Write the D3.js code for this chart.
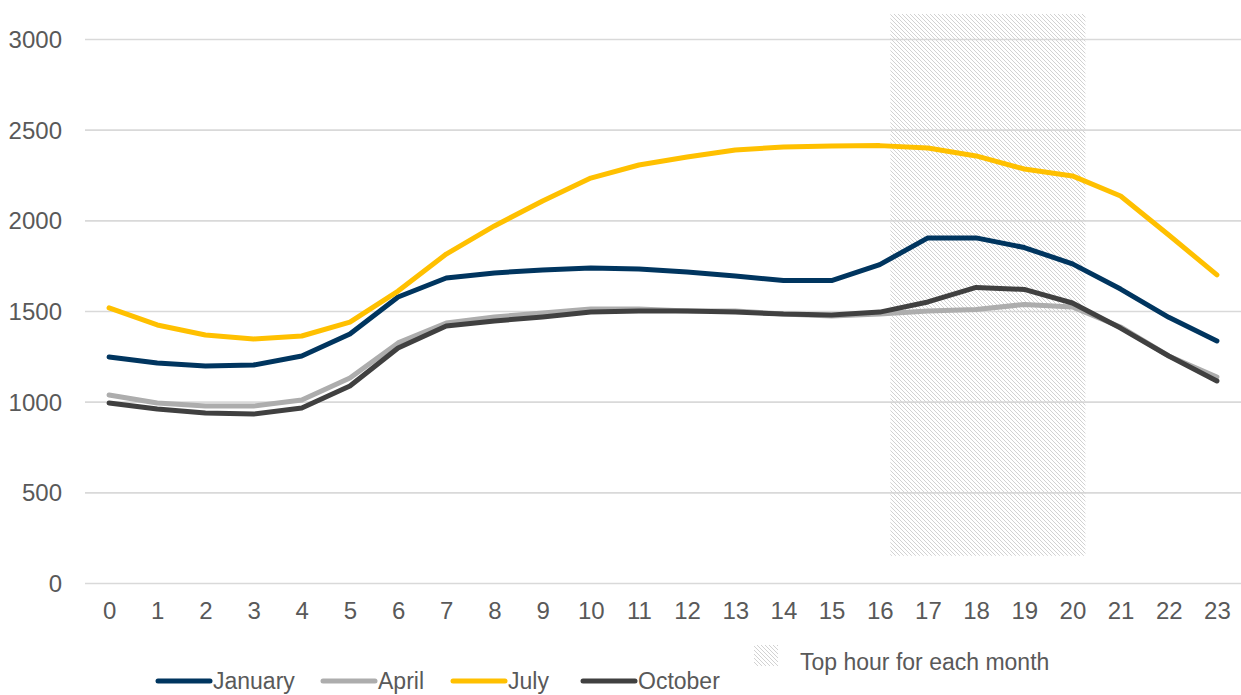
<!DOCTYPE html>
<html><head><meta charset="utf-8">
<script src="https://cdn.jsdelivr.net/npm/d3@7"></script>
<style>
html,body{margin:0;padding:0;background:#fff;}
svg{display:block;}
text{font-family:"Liberation Sans Narrow","Arial Narrow","Liberation Sans",sans-serif;fill:#595959;}
</style></head>
<body>
<svg id="chart" width="1241" height="695"></svg>
<script>
const hours = d3.range(0, 24);
const hourLabels = hours.map(String);
const yTicks = [0, 500, 1000, 1500, 2000, 2500, 3000];
const january = [1246,1213,1197,1202,1252,1373,1577,1682,1710,1726,1737,1732,1715,1693,1668,1668,1756,1903,1903,1850,1760,1621,1465,1335];
const april   = [1037,993,976,976,1009,1131,1324,1434,1467,1489,1511,1511,1500,1500,1483,1472,1483,1500,1508,1536,1522,1412,1252,1136];
const july    = [1517,1423,1368,1346,1362,1439,1610,1814,1969,2107,2233,2305,2349,2388,2404,2410,2412,2399,2355,2283,2245,2134,1919,1699];
const october = [993,960,938,932,965,1086,1296,1417,1445,1467,1494,1500,1500,1494,1483,1478,1494,1550,1630,1619,1544,1406,1252,1114];
const seriesNames = ["January","April","July","October"];
const seriesColors = ["#00355F","#ADADAD","#FFC000","#404040"];
const seriesValues = [january, april, july, october];
const peakHours = [16.22, 20.27];
const peakValues = [150, 3138];
const peakLabel = "Top hour for each month";

const svg = d3.select("#chart");
const mLeft = 85, mRight = 1241, mTop = 39, mBottom = 583;

const x = d3.scaleLinear().domain([-0.5, 23.5]).range([mLeft, mRight]);
const y = d3.scaleLinear().domain([0, 3000]).range([mBottom, mTop]);

// pattern
const defs = svg.append("defs");
const pat = defs.append("pattern").attr("id","hatch").attr("patternUnits","userSpaceOnUse")
  .attr("width",4).attr("height",4);
pat.append("path").attr("d","M-1,-1 L5,5 M-1,3 L1,5 M3,-1 L5,1")
  .attr("stroke","#d2d2d2").attr("stroke-width",1).attr("fill","none");

// gridlines
const yAxis = d3.axisLeft(y).tickValues(yTicks).tickFormat(d3.format("d"))
  .tickSize(-(mRight-mLeft)).tickPadding(23);
const gy = svg.append("g").attr("transform",`translate(${mLeft},0)`).call(yAxis);
gy.select(".domain").remove();
gy.selectAll(".tick line").attr("stroke","#d9d9d9").attr("stroke-width",1.6);
gy.selectAll(".tick text").style("font-size","24px").attr("fill","#595959").attr("dy","0.35em");

// hatch area
svg.append("rect")
  .attr("x", x(peakHours[0])).attr("width", x(peakHours[1]) - x(peakHours[0]))
  .attr("y", y(peakValues[1])).attr("height", y(peakValues[0]) - y(peakValues[1]))
  .attr("fill","url(#hatch)");

// x axis labels
const xAxis = d3.axisBottom(x).tickValues(hours).tickFormat((d,i)=>hourLabels[i]).tickSize(0).tickPadding(19);
const gx = svg.append("g").attr("transform",`translate(0,${mBottom})`).call(xAxis);
gx.select(".domain").remove();
gx.selectAll(".tick text").style("font-size","24px").attr("fill","#595959");

// lines
const line = d3.line().x((d,i)=>x(hours[i])).y(d=>y(d));
seriesValues.forEach((vals, k) => {
  svg.append("path").datum(vals)
    .attr("d", line)
    .attr("fill","none")
    .attr("stroke", seriesColors[k])
    .attr("stroke-width", 5)
    .attr("stroke-linejoin","round")
    .attr("stroke-linecap","round");
});

// legend
const legendX = [158, 323, 453, 583];
const legY = 681;
seriesNames.forEach((name, k) => {
  const g = svg.append("g").attr("transform",`translate(${legendX[k]},${legY})`);
  g.append("line").attr("x1",0).attr("x2",52).attr("y1",0).attr("y2",0)
    .attr("stroke",seriesColors[k]).attr("stroke-width",5).attr("stroke-linecap","round");
  g.append("text").attr("x",55).attr("y",0).attr("dy","0.35em")
    .style("font-size","23px").text(name);
});
// hatch legend
svg.append("rect").attr("x",754).attr("y",645).attr("width",24).attr("height",21).attr("fill","url(#hatch)");
svg.append("text").attr("x",800).attr("y",670).style("font-size","23px").text(peakLabel);
</script>
</body></html>
